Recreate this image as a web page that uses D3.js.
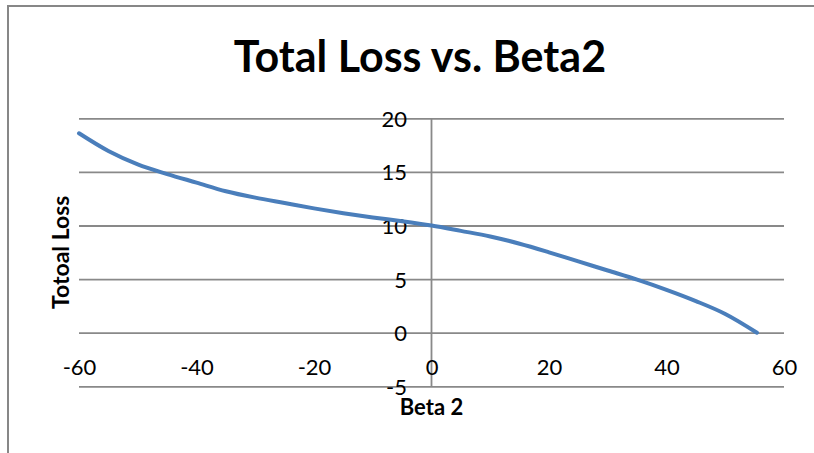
<!DOCTYPE html>
<html>
<head>
<meta charset="utf-8">
<script src="https://cdn.jsdelivr.net/npm/d3@7"></script>
<style>
  html, body { margin: 0; padding: 0; background: #fff; }
  svg { display: block; }
  text { font-family: Lato, "Open Sans", sans-serif; fill: #000; }
</style>
</head>
<body>
<div id="chart"></div>
<script>
(function () {
    "use strict";

    // ── DATA ──
    const beta2 = [-60, -55, -50, -45, -40, -35, -30, -25, -20, -15, -10, -5,
                   0, 5, 10, 15, 20, 25, 30, 35, 40, 45, 50, 55.4];
    const totalLoss = [18.6, 16.95, 15.7, 14.8, 14.0, 13.2, 12.6, 12.1, 11.6, 11.15, 10.75, 10.4,
                       10.0, 9.5, 8.98, 8.3, 7.5, 6.65, 5.8, 4.95, 4.0, 2.95, 1.75, 0];
    const xTicks = [-60, -40, -20, 0, 20, 40, 60];
    const yTicks = [-5, 0, 5, 10, 15, 20];

    const TITLE = "Total Loss vs. Beta2";
    const X_TITLE = "Beta 2";
    const Y_TITLE = "Totoal Loss";

    // ── THEME ──
    const C = {
        line: "#4a7ebb",
        grid: "#898989",
        frame: "#878787",
    };

    const W = 814, H = 453;
    const plot = { left: 79, right: 784, top: 118.3, bottom: 386.3 };
    // Excel prints a plain hyphen, not the unicode minus d3 uses
    const fmt = d => String(d);

    const svg = d3.select("#chart").append("svg")
        .attr("width", W).attr("height", H);

    // outer chart frame (right/bottom edges fall outside the window)
    svg.append("rect")
        .attr("x", 8).attr("y", 6)
        .attr("width", 830).attr("height", 470)
        .attr("fill", "none")
        .attr("stroke", C.frame)
        .attr("stroke-width", 2);

    const x = d3.scaleLinear().domain([-60, 60]).range([plot.left, plot.right]);
    const y = d3.scaleLinear().domain([-5, 20]).range([plot.bottom, plot.top]);

    // ── Gridlines + y labels ──
    const yAxis = svg.append("g")
        .attr("transform", `translate(${plot.left},0)`)
        .call(d3.axisLeft(y).tickValues(yTicks).tickFormat(fmt)
            .tickSize(-(plot.right - plot.left)).tickSizeOuter(0));
    yAxis.select(".domain").remove();
    yAxis.selectAll(".tick line")
        .attr("stroke", C.grid).attr("stroke-width", 1.8);
    yAxis.selectAll(".tick text")
        .attr("x", 407 - plot.left)
        .attr("dy", "0.36em")
        .attr("text-anchor", "end")
        .style("font-size", "22px")
        .style("font-family", "Lato, sans-serif");

    // vertical axis line at x = 0
    svg.append("line")
        .attr("x1", x(0)).attr("x2", x(0))
        .attr("y1", y(20)).attr("y2", y(-5))
        .attr("stroke", C.grid).attr("stroke-width", 1.8);

    // ── X labels ──
    const xAxis = svg.append("g")
        .attr("transform", `translate(0,${y(0)})`)
        .call(d3.axisBottom(x).tickValues(xTicks).tickSize(0).tickFormat(fmt));
    xAxis.select(".domain").remove();
    xAxis.selectAll(".tick text")
        .attr("y", 0)
        .attr("dy", 42)
        .style("font-size", "22px")
        .style("font-family", "Lato, sans-serif");

    // ── Series ──
    const pts = beta2.map((b, i) => [b, totalLoss[i]]);
    svg.append("path")
        .datum(pts)
        .attr("fill", "none")
        .attr("stroke", C.line)
        .attr("stroke-width", 4)
        .attr("stroke-linecap", "round")
        .attr("d", d3.line().x(d => x(d[0])).y(d => y(d[1])).curve(d3.curveCatmullRom.alpha(0.5)));

    // ── Titles ──
    svg.append("text")
        .attr("x", 420).attr("y", 72)
        .attr("text-anchor", "middle")
        .style("font-size", "43px").style("font-weight", "bold")
        .text(TITLE);

    svg.append("text")
        .attr("x", x(0)).attr("y", 415)
        .attr("text-anchor", "middle")
        .style("font-size", "22px").style("font-weight", "bold")
        .text(X_TITLE);

    svg.append("text")
        .attr("transform", `translate(69,${(plot.top + plot.bottom) / 2}) rotate(-90)`)
        .attr("text-anchor", "middle")
        .style("font-size", "23px").style("font-weight", "bold")
        .text(Y_TITLE);
})();
</script>
</body>
</html>
